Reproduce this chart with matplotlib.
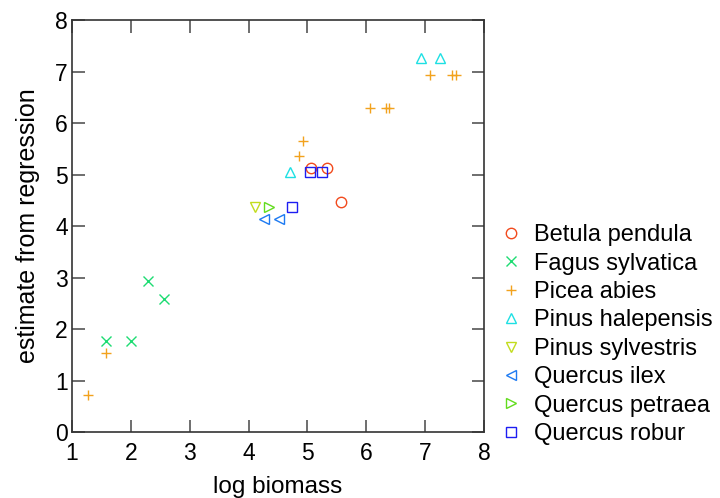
import matplotlib
matplotlib.use('Agg')
import matplotlib.pyplot as plt

plt.rcParams['font.family'] = ['Liberation Sans', 'DejaVu Sans']

species = ['Betula pendula', 'Fagus sylvatica', 'Picea abies', 'Pinus halepensis',
           'Pinus sylvestris', 'Quercus ilex', 'Quercus petraea', 'Quercus robur']
markers = ['o', 'x', '+', '^', 'v', '<', '>', 's']
colors = ['#F24A1D', '#1DDC72', '#F2A21D', '#1DE0E3', '#C2DC1D', '#1D7AF2', '#62DC1D', '#1D1DF2']

# log biomass / estimate from regression, per species
xs = {
    'Betula pendula': [5.06, 5.34, 5.57],
    'Fagus sylvatica': [1.58, 2.00, 2.29, 2.56],
    'Picea abies': [1.28, 1.57, 4.86, 4.93, 6.06, 6.34, 6.39, 7.09, 7.46, 7.52],
    'Pinus halepensis': [4.70, 6.93, 7.25],
    'Pinus sylvestris': [4.11],
    'Quercus ilex': [4.26, 4.51],
    'Quercus petraea': [4.35],
    'Quercus robur': [4.74, 5.05, 5.24],
}
ys = {
    'Betula pendula': [5.13, 5.13, 4.46],
    'Fagus sylvatica': [1.77, 1.77, 2.93, 2.58],
    'Picea abies': [0.72, 1.53, 5.35, 5.66, 6.30, 6.30, 6.30, 6.94, 6.94, 6.94],
    'Pinus halepensis': [5.04, 7.26, 7.26],
    'Pinus sylvestris': [4.36],
    'Quercus ilex': [4.14, 4.14],
    'Quercus petraea': [4.36],
    'Quercus robur': [4.36, 5.04, 5.04],
}

fig = plt.figure(figsize=(7.2, 4.98), dpi=100)
ax = fig.add_axes([72 / 720, 66 / 498, 412 / 720, 412 / 498])

for sp, m, c in zip(species, markers, colors):
    ax.plot(xs[sp], ys[sp], linestyle='none', marker=m, markersize=7.5,
            markerfacecolor='none', markeredgecolor=c, markeredgewidth=1.0,
            color=c, label=sp)

ax.set_xlim(1, 8)
ax.set_ylim(0, 8)
ax.set_xticks(range(1, 9))
ax.set_yticks(range(0, 9))
ax.tick_params(direction='in', top=True, right=True, length=9, width=1.2,
               labelsize=16.5, colors='#555555', labelcolor='black', pad=3)
ax.tick_params(axis='x', pad=7)
for s in ax.spines.values():
    s.set_linewidth(1.2)
    s.set_color('#333333')

ax.set_xlabel('log biomass', fontsize=17.5, labelpad=8)
ax.set_ylabel('estimate from regression', fontsize=18, labelpad=11)

ax.legend(loc='center left', bbox_to_anchor=(500 / 720, 0.328),
          bbox_transform=fig.transFigure, frameon=False,
          fontsize=17, handletextpad=0.55, labelspacing=0.27,
          handlelength=0.9, borderaxespad=0, borderpad=0)

fig.savefig('out.png', dpi=100)
